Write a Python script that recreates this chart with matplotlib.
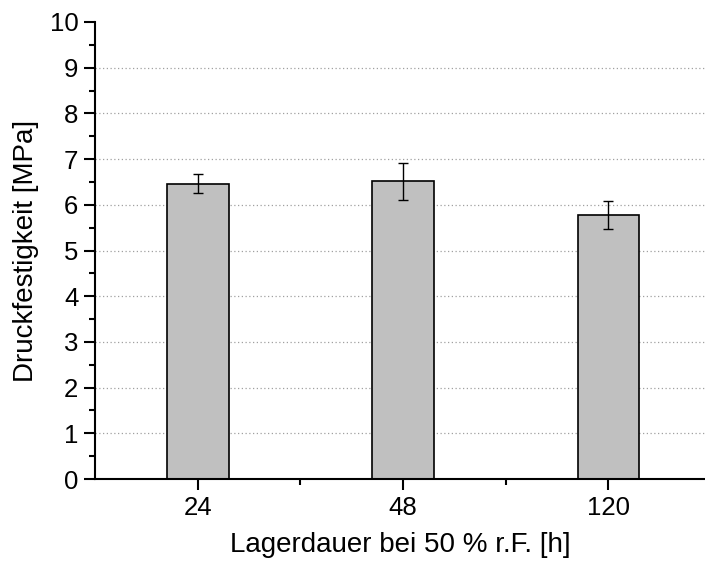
"""
Druckfestigkeit nach Lagerdauer bei 50 % r.F.

Bar chart with error bars, saved as out.png.
"""

import matplotlib.pyplot as plt
from matplotlib.ticker import MultipleLocator, AutoMinorLocator

# Data
lagerdauer = ["24", "48", "120"]
druckfestigkeit = [6.46, 6.51, 5.78]
fehler = [0.21, 0.41, 0.31]


def plot_druckfestigkeit(output_file: str = "out.png") -> None:
    """Draw the compressive strength bars and save the figure."""
    plt.rcParams["font.family"] = ["Liberation Sans", "DejaVu Sans"]

    fig = plt.figure(figsize=(7.05, 5.67), dpi=100)
    ax = fig.add_axes([0.1348, 0.1552, 0.8652, 0.806])

    x = list(range(len(lagerdauer)))
    ax.bar(x, druckfestigkeit, width=0.30, color="#c0c0c0",
           edgecolor="black", linewidth=1.2, zorder=2)
    ax.errorbar(x, druckfestigkeit, yerr=fehler, fmt="none", ecolor="black",
                elinewidth=1.0, capsize=3.4, capthick=1.0, zorder=3)

    ax.set_xlim(-0.5, 2.47)
    ax.set_ylim(0, 10)
    ax.set_xticks(x)
    ax.set_xticklabels(lagerdauer)
    ax.set_xticks([0.5, 1.5], minor=True)
    ax.yaxis.set_major_locator(MultipleLocator(1))
    ax.yaxis.set_minor_locator(AutoMinorLocator(2))

    # Grid only at inner major ticks
    for yv in range(1, 10):
        ax.axhline(yv, color="#a0a0a0", linestyle=(0, (1, 2)),
                   linewidth=0.9, zorder=1)

    ax.spines["top"].set_visible(False)
    ax.spines["right"].set_visible(False)
    ax.spines["left"].set_linewidth(1.5)
    ax.spines["bottom"].set_linewidth(1.5)

    ax.tick_params(axis="both", which="major", direction="out", length=8,
                   width=1.5, labelsize=18.5, pad=4)
    ax.tick_params(axis="both", which="minor", direction="out", length=4,
                   width=1.5)

    ax.set_xlabel("Lagerdauer bei 50 % r.F. [h]", fontsize=20, labelpad=9)
    ax.set_ylabel("Druckfestigkeit [MPa]", fontsize=20, labelpad=8)

    fig.savefig(output_file, dpi=100)
    plt.close(fig)


if __name__ == "__main__":
    plot_druckfestigkeit()
